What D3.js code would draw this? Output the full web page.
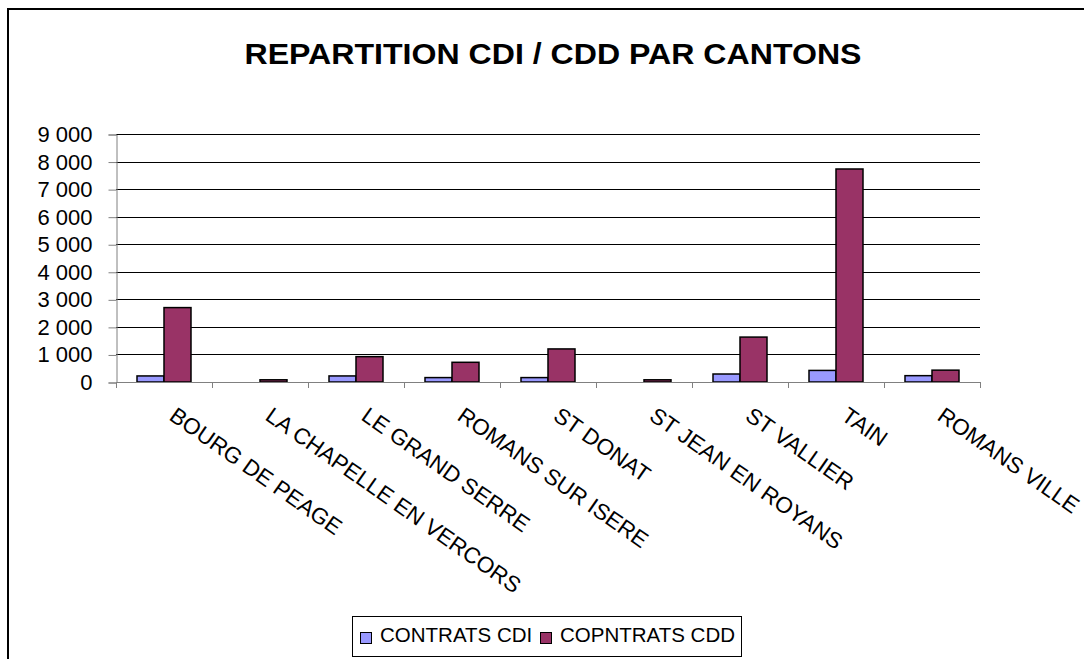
<!DOCTYPE html>
<html>
<head>
<meta charset="utf-8">
<script src="https://cdn.jsdelivr.net/npm/d3@7"></script>
<style>
  body { margin: 0; background: #fff; }
  text { font-family: "Liberation Sans", Arial, sans-serif; }
</style>
</head>
<body>
<svg class="bar-chart"></svg>
<script>
// cantons and contract counts
const cantons = ["BOURG DE PEAGE", "LA CHAPELLE EN VERCORS", "LE GRAND SERRE", "ROMANS SUR ISERE",
    "ST DONAT", "ST JEAN EN ROYANS", "ST VALLIER", "TAIN", "ROMANS VILLE"];
const contratsCDI = [220, 0, 220, 160, 160, 0, 290, 420, 230];
const contratsCDD = [2700, 80, 920, 715, 1200, 80, 1630, 7730, 430];
const seriesNames = ["CONTRATS CDI", "COPNTRATS CDD"];
const yTicks = [0, 1000, 2000, 3000, 4000, 5000, 6000, 7000, 8000, 9000];
const chartTitle = "REPARTITION CDI / CDD PAR CANTONS";

document.addEventListener("DOMContentLoaded", () => {
    drawChart();
});

function drawChart() {
    let svgWidth = 1084, svgHeight = 659;
    let colors = ["#9999FF", "#993366"];

    let svg = d3.select('.bar-chart')
        .attr("width", svgWidth)
        .attr("height", svgHeight);

    // outer chart border (only left and top show in the picture)
    svg.append("rect")
        .attr("x", 8).attr("y", 9)
        .attr("width", 1200).attr("height", 800)
        .attr("fill", "none")
        .attr("stroke", "#000")
        .attr("stroke-width", 2);

    svg.append("text")
        .attr("x", 553).attr("y", 64)
        .attr("text-anchor", "middle")
        .attr("font-size", 29)
        .attr("font-weight", "bold")
        .attr("textLength", 617)
        .attr("lengthAdjust", "spacingAndGlyphs")
        .text(chartTitle);

    let x = d3.scaleBand()
        .domain(cantons)
        .range([116, 980]);

    let x1 = d3.scaleBand()
        .domain(seriesNames)
        .range([0, x.bandwidth()])
        .paddingOuter(0.778);

    let y = d3.scaleLinear()
        .domain([0, 9000])
        .range([382, 134]);

    // gridlines
    svg.append("g")
        .selectAll("line")
        .data(yTicks.slice(1))
        .join("line")
        .attr("x1", 116).attr("x2", 980)
        .attr("y1", d => Math.round(y(d)) + 0.5)
        .attr("y2", d => Math.round(y(d)) + 0.5)
        .attr("stroke", "#000")
        .attr("stroke-width", 1);

    // y axis
    let yAxis = svg.append("g")
        .attr("transform", "translate(116.5,0.5)")
        .call(d3.axisLeft(y)
            .tickValues(yTicks)
            .tickSize(8)
            .tickPadding(16)
            .tickFormat(d => d3.format(",")(d).replace(/,/g, " ")));
    yAxis.select(".domain").attr("stroke", "#808080");
    yAxis.selectAll(".tick line").attr("stroke", "#808080");
    yAxis.selectAll("text")
        .attr("font-size", 22)
        .attr("fill", "#000");

    // bars
    let groups = svg.append("g")
        .selectAll("g")
        .data(cantons)
        .join("g")
        .attr("transform", d => "translate(" + x(d) + ",0)");

    groups.selectAll("rect")
        .data((d, i) => [
            { key: seriesNames[0], value: contratsCDI[i], color: colors[0] },
            { key: seriesNames[1], value: contratsCDD[i], color: colors[1] }
        ].filter(b => b.value > 0))
        .join("rect")
        .attr("x", b => x1(b.key))
        .attr("y", b => y(b.value))
        .attr("width", x1.bandwidth())
        .attr("height", b => y(0) - y(b.value))
        .attr("fill", b => b.color)
        .attr("stroke", "#000")
        .attr("stroke-width", 1.5);

    // x axis with boundary ticks
    let boundaries = cantons.map(c => x(c)).concat([x.range()[1]]);
    svg.append("line")
        .attr("x1", 116).attr("x2", 980)
        .attr("y1", 382.5).attr("y2", 382.5)
        .attr("stroke", "#808080");
    svg.append("g")
        .selectAll("line")
        .data(boundaries)
        .join("line")
        .attr("x1", d => Math.round(d) + 0.5).attr("x2", d => Math.round(d) + 0.5)
        .attr("y1", 382).attr("y2", 388)
        .attr("stroke", "#808080");

    // rotated category labels, clipped like the reference
    svg.append("clipPath")
        .attr("id", "label-clip")
        .append("rect")
        .attr("x", 0).attr("y", 383)
        .attr("width", svgWidth).attr("height", 210);

    svg.append("g")
        .attr("clip-path", "url(#label-clip)")
        .selectAll("text")
        .data(cantons)
        .join("text")
        .attr("transform", d => "translate(" + (x(d) + x.bandwidth() / 2 + 4) + ",419) rotate(35)")
        .attr("font-size", 22.5)
        .text(d => d);

    // legend
    let legend = svg.append("g");
    legend.append("rect")
        .attr("x", 352.5).attr("y", 616.5)
        .attr("width", 389).attr("height", 40)
        .attr("fill", "#fff")
        .attr("stroke", "#000")
        .attr("stroke-width", 1);

    let legendX = [360, 540];
    seriesNames.forEach((name, i) => {
        legend.append("rect")
            .attr("x", legendX[i] + 0.5).attr("y", 632.5)
            .attr("width", 11).attr("height", 11)
            .attr("fill", colors[i])
            .attr("stroke", "#000")
            .attr("stroke-width", 1);
        legend.append("text")
            .attr("x", legendX[i] + 20).attr("y", 642)
            .attr("font-size", 20.5)
            .text(name);
    });
}
</script>
</body>
</html>
